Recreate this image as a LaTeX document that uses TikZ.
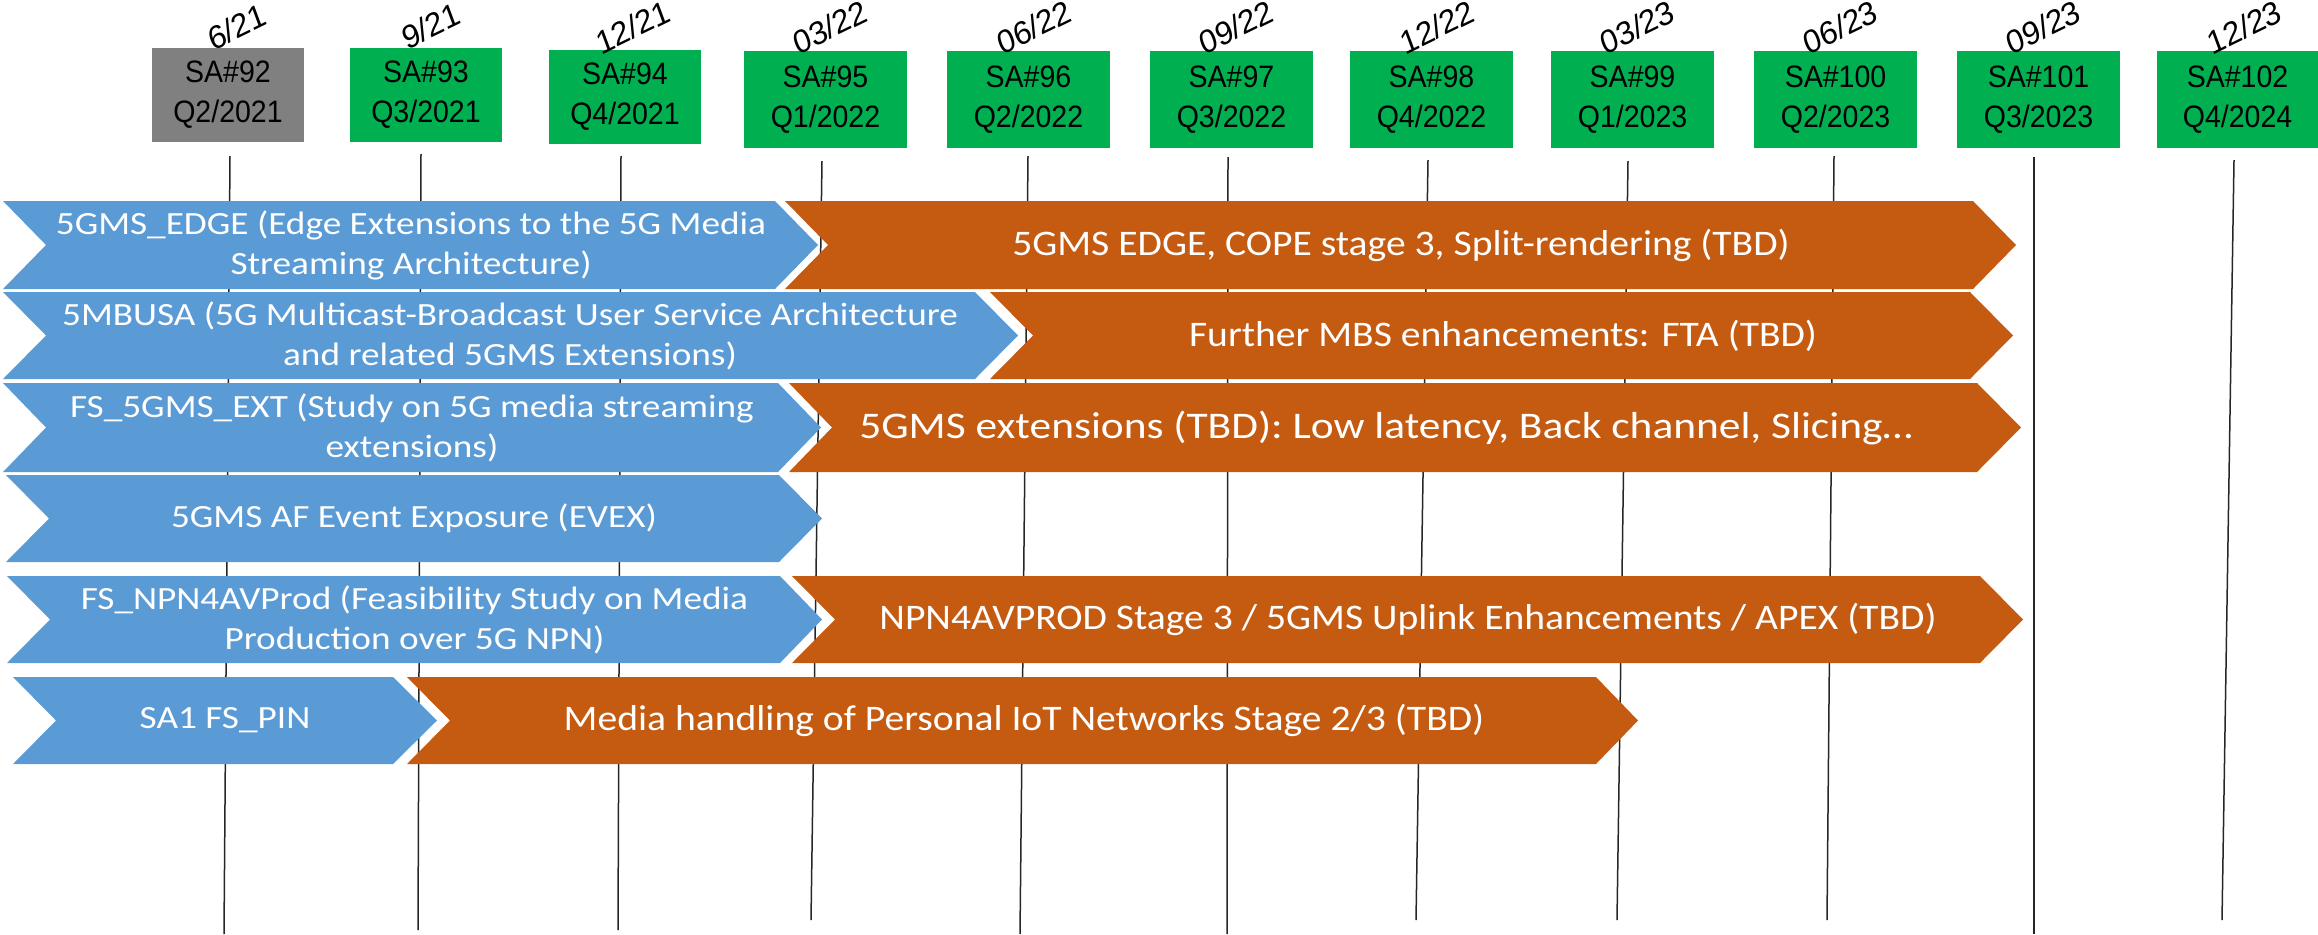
\documentclass[tikz,border=0pt]{standalone}
\usepackage{fontspec}
\setmainfont{Carlito}
\newfontfamily\arialf[FakeStretch=0.92]{Liberation Sans}
\newfontfamily\datef{Liberation Sans}
\newfontfamily\bluef[FakeStretch=1.15]{Carlito}
\newfontfamily\orangef[FakeStretch=1.1]{Carlito}
\newfontfamily\widef[FakeStretch=1.155]{Carlito}
\definecolor{msblue}{HTML}{5B9BD5}
\definecolor{msorange}{HTML}{C55A11}
\definecolor{msgreen}{HTML}{00B050}
\definecolor{msgray}{HTML}{808080}
\newcommand\chevshape[7]{%
  \fill[#1] (#2,#6) -- (#4,#6) -- (#5,{(#6+#7)/2}) -- (#4,#7) -- (#2,#7) -- (#3,{(#6+#7)/2}) -- cycle;}
\begin{document}
\begin{tikzpicture}[x=0.5pt,y=-0.5pt,
  sabox/.style={fill=msgreen, minimum width=81.5pt, minimum height=48.5pt, inner sep=0pt,
    font=\arialf\fontsize{15.5}{20}\selectfont, align=center, text=black},
  oldbox/.style={sabox, minimum width=76pt, minimum height=47pt},
  datel/.style={font=\datef\fontsize{16}{18}\selectfont, rotate=26, xslant=0.1, inner sep=0pt, text=black},
  vline/.style={line width=0.75pt, black!85},
  bt/.style={font=\bluef\fontsize{16.2}{20}\selectfont, text=white, align=center, inner sep=0pt},
  ot/.style={font=\orangef\fontsize{18}{20}\selectfont, text=white, align=center, inner sep=0pt},
  wt/.style={font=\widef\fontsize{18.8}{20}\selectfont, text=white, align=center, inner sep=0pt}]
\useasboundingbox (0,0) rectangle (2318,934);
% meeting boxes
\node[oldbox, fill=msgray] (b92) at (228,95) {SA\#92\\Q2/2021};
\node[oldbox] (b93) at (426,95) {SA\#93\\Q3/2021};
\node[oldbox] (b94) at (625,97) {SA\#94\\Q4/2021};
\node[sabox] (b95) at (825.5,99.5) {SA\#95\\Q1/2022};
\node[sabox] (b96) at (1028.5,99.5) {SA\#96\\Q2/2022};
\node[sabox] (b97) at (1231.5,99.5) {SA\#97\\Q3/2022};
\node[sabox] (b98) at (1431.5,99.5) {SA\#98\\Q4/2022};
\node[sabox] (b99) at (1632.5,99.5) {SA\#99\\Q1/2023};
\node[sabox] (b100) at (1835.5,99.5) {SA\#100\\Q2/2023};
\node[sabox] (b101) at (2038.5,99.5) {SA\#101\\Q3/2023};
\node[sabox, minimum width=80.5pt] (b102) at (2237.5,99.5) {SA\#102\\Q4/2024};
% dates
\node[datel] (d92) at (237,27) {6/21};
\node[datel] (d93) at (431,26) {9/21};
\node[datel] (d94) at (633,27) {12/21};
\node[datel] (d95) at (830,27) {03/22};
\node[datel] (d96) at (1034,27) {06/22};
\node[datel] (d97) at (1236,27) {09/22};
\node[datel] (d98) at (1437,27) {12/22};
\node[datel] (d99) at (1637,27) {03/23};
\node[datel] (d100) at (1840,27) {06/23};
\node[datel] (d101) at (2043,27) {09/23};
\node[datel] (d102) at (2244,27) {12/23};
% vertical lines
\coordinate (t92) at (230,156);  \coordinate (e92) at (224,934);
\coordinate (t93) at (421,154);  \coordinate (e93) at (418,930);
\coordinate (t94) at (621,156);  \coordinate (e94) at (618,930);
\coordinate (t95) at (822,161);  \coordinate (e95) at (811,920);
\coordinate (t96) at (1028,156); \coordinate (e96) at (1020,934);
\coordinate (t97) at (1228,157); \coordinate (e97) at (1227,934);
\coordinate (t98) at (1428,160); \coordinate (e98) at (1416,920);
\coordinate (t99) at (1628,161); \coordinate (e99) at (1617,920);
\coordinate (t100) at (1834,156); \coordinate (e100) at (1827,920);
\coordinate (t101) at (2034,157); \coordinate (e101) at (2034,934);
\coordinate (t102) at (2234,160); \coordinate (e102) at (2222,920);
\foreach \n in {92,93,94,95,96,97,98,99,100,101,102}{\draw[vline] (t\n) -- (e\n);}
% chevrons
\chevshape{msblue}{3}{46}{775}{818}{201}{289}
\chevshape{msorange}{785}{828}{1973}{2016}{201}{289}
\chevshape{msblue}{3}{46}{975}{1018}{292}{379}
\chevshape{msorange}{990}{1033}{1970}{2013}{292}{379}
\chevshape{msblue}{3}{46}{778}{821}{383}{472}
\chevshape{msorange}{789}{832}{1977}{2021}{383}{472}
\chevshape{msblue}{6}{49}{779}{822}{475}{562}
\chevshape{msblue}{7}{50}{780}{822}{576}{663}
\chevshape{msorange}{792}{835}{1980}{2023}{576}{663}
\chevshape{msblue}{13}{56}{393}{437}{677}{764}
\chevshape{msorange}{407}{450}{1596}{1638}{677}{764}
% texts
\node[bt] (r1b) at (411,245) {5GMS\_EDGE (Edge Extensions to the 5G Media\\Streaming Architecture)};
\node[ot] (r1o) at (1401,245) {5GMS EDGE, COPE stage 3, Split-rendering (TBD)};
\node[bt] (r2b) at (510,335.5) {5MBUSA (5G Multicast-Broadcast User Service Architecture\\and related 5GMS Extensions)};
\node[ot] (r2o) at (1503,335.5) {Further MBS enhancements: FTA (TBD)};
\node[bt] (r3b) at (412,427.5) {FS\_5GMS\_EXT (Study on 5G media streaming\\extensions)};
\node[wt] (r3o) at (1386,427.5) {5GMS extensions (TBD): Low latency, Back channel, Slicing…};
\node[bt] (r4b) at (414,518.5) {5GMS AF Event Exposure (EVEX)};
\node[bt] (r5b) at (414.5,619.5) {FS\_NPN4AVProd (Feasibility Study on Media\\Production over 5G NPN)};
\node[ot] (r5o) at (1408,619.5) {NPN4AVPROD Stage 3 / 5GMS Uplink Enhancements / APEX (TBD)};
\node[bt] (r6b) at (225,720.5) {SA1 FS\_PIN};
\node[ot] (r6o) at (1024,720.5) {Media handling of Personal IoT Networks Stage 2/3 (TBD)};
\end{tikzpicture}
\end{document}
